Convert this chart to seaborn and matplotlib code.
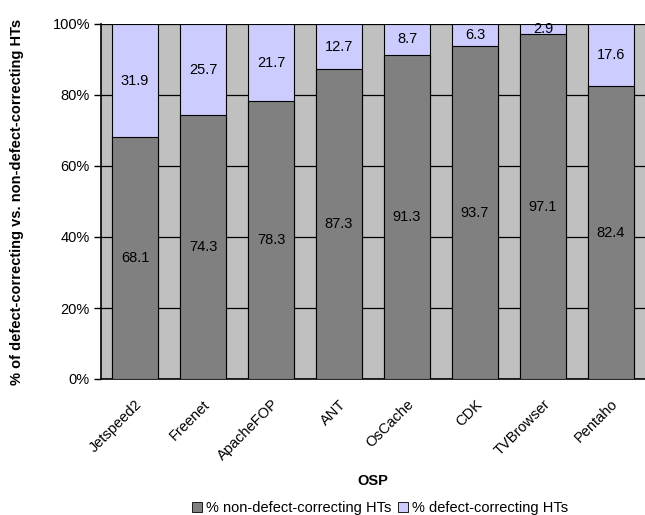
import matplotlib
matplotlib.use("Agg")
import matplotlib.pyplot as plt
import seaborn as sns
import pandas as pd
from matplotlib.patches import Patch

categories = ["Jetspeed2", "Freenet", "ApacheFOP", "ANT", "OsCache", "CDK", "TVBrowser", "Pentaho"]
non_defect = [68.1, 74.3, 78.3, 87.3, 91.3, 93.7, 97.1, 82.4]
defect = [31.9, 25.7, 21.7, 12.7, 8.7, 6.3, 2.9, 17.6]
yticks = [0, 20, 40, 60, 80, 100]
ytick_labels = ["0%", "20%", "40%", "60%", "80%", "100%"]

sns.set_theme(style="white")
plt.rcParams["font.family"] = ["Liberation Sans", "DejaVu Sans"]
plt.rcParams["text.color"] = "black"
plt.rcParams["axes.labelcolor"] = "black"
plt.rcParams["xtick.color"] = "black"
plt.rcParams["ytick.color"] = "black"

df = pd.DataFrame({"OSP": categories, "non": non_defect, "def": defect})
df["total"] = df["non"] + df["def"]

fig = plt.figure(figsize=(6.45, 5.15), dpi=100)
ax = fig.add_axes([101 / 645, 136 / 515, 544 / 645, 355 / 515])
ax.set_facecolor("#C0C0C0")

width = 0.67
sns.barplot(data=df, x="OSP", y="total", color="#CCCCFF", saturation=1, width=width,
            edgecolor="black", linewidth=0.8, ax=ax, zorder=3)
sns.barplot(data=df, x="OSP", y="non", color="#808080", saturation=1, width=width,
            edgecolor="black", linewidth=0.8, ax=ax, zorder=3)

n = len(categories)
ax.set_xlim(-0.5, n - 0.5)
ax.set_ylim(0, 100)
ax.set_yticks(yticks)
ax.set_yticklabels(ytick_labels, fontsize=10.5)
ax.yaxis.grid(True, color="black", linewidth=0.9, zorder=1)
ax.set_axisbelow(True)

ax.set_xticks([i - 0.5 for i in range(n + 1)], minor=True)
ax.set_xticks(range(n))
ax.set_xticklabels(categories, rotation=45, ha="right", va="top", rotation_mode="anchor", fontsize=10.5)
ax.tick_params(axis="x", which="major", length=0, pad=13)
ax.tick_params(axis="x", which="minor", length=5, width=1, color="black", direction="out")
ax.tick_params(axis="y", length=5, width=1, color="black", direction="out", left=True, pad=3)

for side in ["top", "right"]:
    ax.spines[side].set_visible(False)
for side in ["left", "bottom"]:
    ax.spines[side].set_color("black")
    ax.spines[side].set_linewidth(1.2)

for i, (a, b) in enumerate(zip(non_defect, defect)):
    ax.text(i, a / 2, f"{a:.1f}", ha="center", va="center", fontsize=10.5, color="black", zorder=5)
    ax.text(i, a + b / 2, f"{b:.1f}", ha="center", va="center", fontsize=10.5, color="black", zorder=5)

ax.set_xlabel("OSP", fontsize=10.5, fontweight="bold")
ax.set_ylabel("% of defect-correcting vs. non-defect-correcting HTs", fontsize=10.5, fontweight="bold")
ax.xaxis.label.set_va("center")
ax.xaxis.set_label_coords((373 - 101) / 544, (379 - 481) / 355)
ax.yaxis.label.set_va("center")
ax.yaxis.set_label_coords((17 - 101) / 544, 0.5)

handles = [Patch(facecolor="#808080", edgecolor="black", linewidth=0.6, label="% non-defect-correcting HTs"),
           Patch(facecolor="#CCCCFF", edgecolor="black", linewidth=0.6, label="% defect-correcting HTs")]
fig.legend(handles=handles, loc="center", bbox_to_anchor=(380 / 645, 1 - 508 / 515), ncol=2, frameon=False,
           fontsize=10.5, handlelength=0.7, handleheight=0.7, handletextpad=0.3, columnspacing=0.4,
           borderaxespad=0, borderpad=0)

fig.savefig("out.png", dpi=100)
